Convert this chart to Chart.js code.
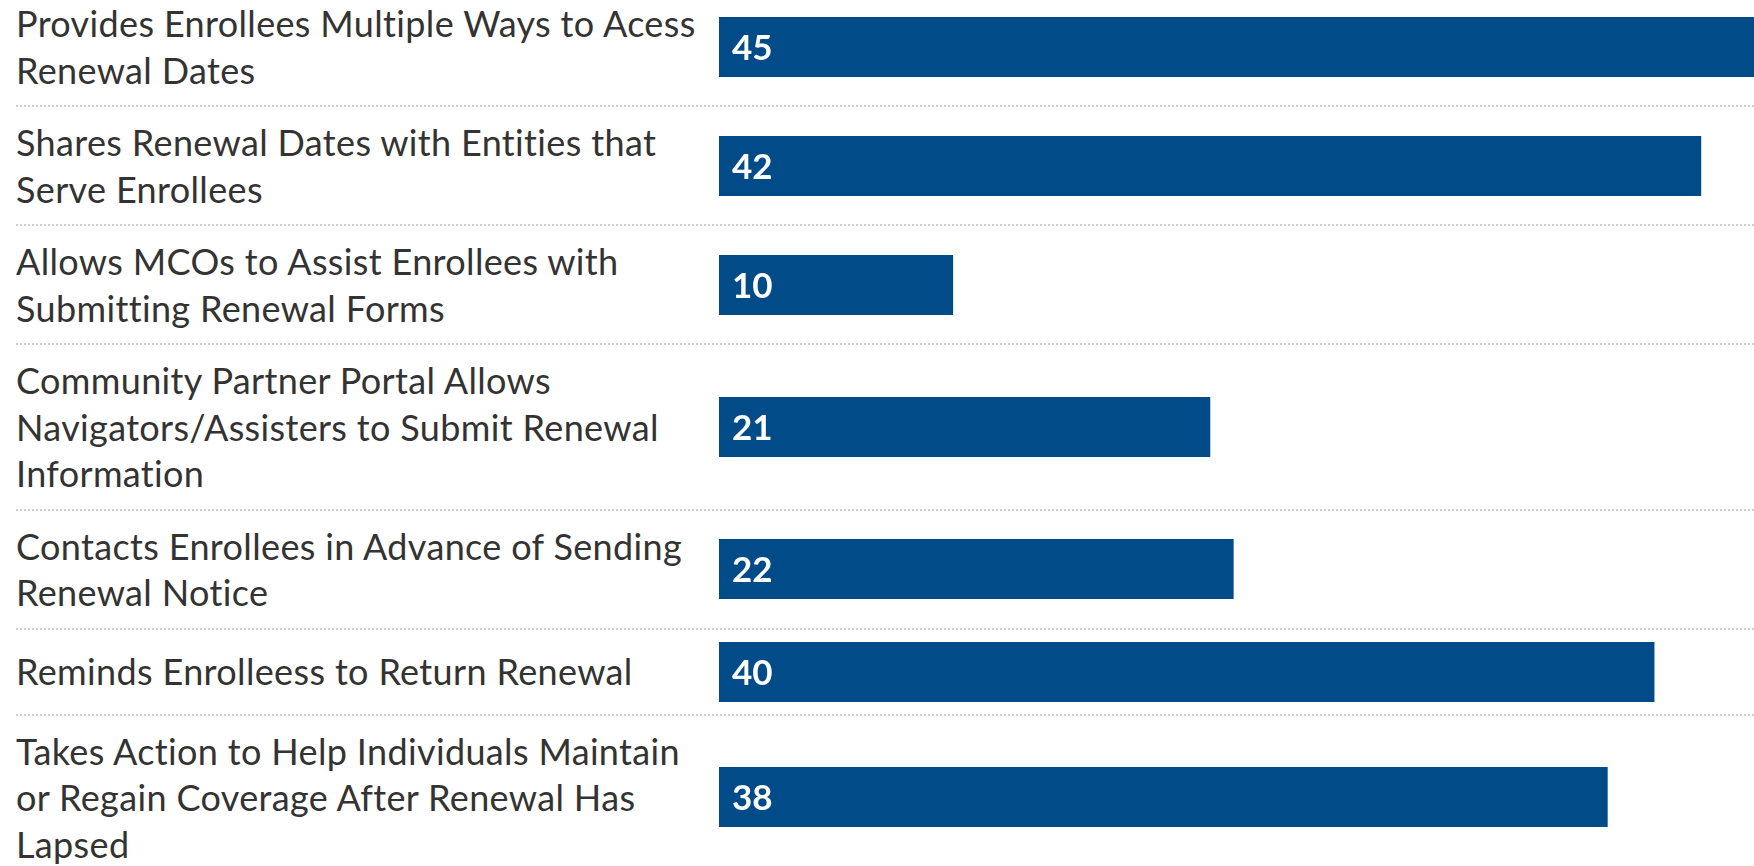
<!DOCTYPE html>
<html>
<head>
<meta charset="utf-8">
<script src="https://cdn.jsdelivr.net/npm/chart.js@4.4.1/dist/chart.umd.min.js"></script>
<style>
  html, body { margin: 0; padding: 0; background: #fff; }
  body { width: 1754px; height: 866px; overflow: hidden; position: relative; }
  #rows { position: absolute; left: 16px; top: -12px; width: 1790px; }
  .row {
    display: flex; align-items: center;
    padding: 12px 0;
    border-bottom: 2px dotted #cfcfcf;
  }
  .label {
    width: 703px; flex: none;
    font-family: Lato, sans-serif; font-size: 36px; line-height: 46.5px;
    letter-spacing: 0.35px; font-variant-ligatures: none;
    color: #333; white-space: nowrap;
  }
  .bar { flex: none; width: 1052px; height: 60px; }
</style>
</head>
<body>
<div id="rows"></div>
<script>
//Category labels, one array of lines per row
const labels = [
  ["Provides Enrollees Multiple Ways to Acess", "Renewal Dates"],
  ["Shares Renewal Dates with Entities that", "Serve Enrollees"],
  ["Allows MCOs to Assist Enrollees with", "Submitting Renewal Forms"],
  ["Community Partner Portal Allows", "Navigators/Assisters to Submit Renewal", "Information"],
  ["Contacts Enrollees in Advance of Sending", "Renewal Notice"],
  ["Reminds Enrolleess to Return Renewal"],
  ["Takes Action to Help Individuals Maintain", "or Regain Coverage After Renewal Has", "Lapsed"]
];
//Number of states per item
const values = [45, 42, 10, 21, 22, 40, 38];
//Shared scale for every row
const xMax = 45;

const barColor = "#004b88";

//Write the value inside the bar, near its base
const valueLabel = {
  id: "valueLabel",
  afterDatasetsDraw(chart) {
    const ctx = chart.ctx;
    ctx.save();
    ctx.font = "bold 35px Lato, sans-serif";
    ctx.fillStyle = "#ffffff";
    ctx.textBaseline = "middle";
    chart.getDatasetMeta(0).data.forEach((bar, i) => {
      ctx.fillText(chart.data.datasets[0].data[i], bar.base + 13, bar.y + 2);
    });
    ctx.restore();
  }
};

const container = document.getElementById("rows");

for (let i = 0; i < labels.length; i++) {
  const row = document.createElement("div");
  row.className = "row";

  const label = document.createElement("div");
  label.className = "label";
  label.innerHTML = labels[i].join("<br>");
  row.appendChild(label);

  const holder = document.createElement("div");
  holder.className = "bar";
  const canvas = document.createElement("canvas");
  canvas.width = 1052;
  canvas.height = 60;
  holder.appendChild(canvas);
  row.appendChild(holder);
  container.appendChild(row);

  new Chart(canvas, {
    type: "bar",
    data: {
      labels: [labels[i].join(" ")],
      datasets: [{
        data: [values[i]],
        backgroundColor: barColor,
        barPercentage: 1,
        categoryPercentage: 1
      }]
    },
    options: {
      indexAxis: "y",
      responsive: false,
      animation: false,
      layout: { padding: 0 },
      scales: {
        x: { display: false, min: 0, max: xMax },
        y: { display: false }
      },
      plugins: { legend: { display: false }, tooltip: { enabled: false } }
    },
    plugins: [valueLabel]
  });
}
</script>
</body>
</html>
